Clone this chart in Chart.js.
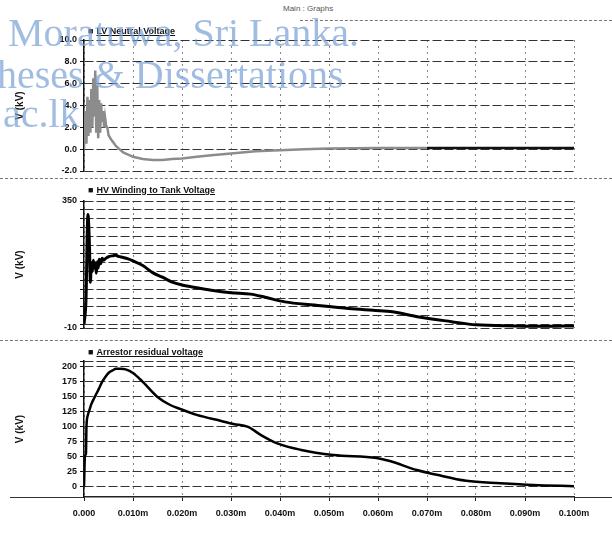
<!DOCTYPE html>
<html>
<head>
<meta charset="utf-8">
<script src="https://cdn.jsdelivr.net/npm/chart.js@4.4.1/dist/chart.umd.min.js"></script>
<style>
    body { margin: 0; background: #fff; }
    #page { position: relative; width: 612px; height: 546px; overflow: hidden; background: #fff; font-family: "Liberation Sans", Arial, sans-serif; }
    .panel { position: absolute; left: 0; width: 612px; }
    .legend { position: absolute; left: 88px; font-size: 9px; font-weight: bold; color: #111; white-space: nowrap; }
    .legend span { text-decoration: underline; margin-left: 3px; }
    .rule { position: absolute; border-top: 1px dashed #777; height: 0; }
    .mark { position: absolute; font-family: "Liberation Serif", "Times New Roman", serif; font-size: 40px; line-height: 40px; color: rgba(120,160,212,0.7); white-space: nowrap; pointer-events: none; }
</style>
</head>
<body>
<div id="page">
    <div style="position:absolute;left:283px;top:4px;font-size:8px;color:#555;">Main : Graphs</div>
    <div class="rule" style="left:300px;top:20px;width:312px;"></div>
    <div class="rule" style="left:0;top:178px;width:612px;"></div>
    <div class="rule" style="left:0;top:340px;width:612px;"></div>
    <div style="position:absolute;left:10px;top:497px;width:74px;border-top:1px solid #333;"></div>
    <div style="position:absolute;left:574px;top:497px;width:38px;border-top:1px solid #333;"></div>

    <div class="panel" style="top:30px;height:150px;"><canvas id="grafico-1" width="612" height="150"></canvas></div>
    <div class="panel" style="top:190px;height:150px;"><canvas id="grafico-2" width="612" height="150"></canvas></div>
    <div class="panel" style="top:350px;height:196px;"><canvas id="grafico-3" width="612" height="196"></canvas></div>

    <div class="legend" style="top:26px;">&#9632;<span>LV Neutral Voltage</span></div>
    <div class="legend" style="top:185px;">&#9632;<span>HV Winding to Tank Voltage</span></div>
    <div class="legend" style="top:347px;">&#9632;<span>Arrestor residual voltage</span></div>

    <div class="mark" style="left:8px;top:13px;">Moratuwa, Sri Lanka.</div>
    <div class="mark" style="left:-3px;top:55px;">heses &amp; Dissertations</div>
    <div class="mark" style="left:3px;top:94px;">ac.lk</div>
</div>
<script>
// time axis (s)
const xTicks = [0, 0.01, 0.02, 0.03, 0.04, 0.05, 0.06, 0.07, 0.08, 0.09, 0.1];

// LV Neutral Voltage (kV)
const lvTime = [0, 0.0003, 0.0005, 0.0007, 0.0009, 0.0011, 0.0013, 0.0015, 0.0017, 0.0019, 0.0021, 0.0023, 0.0025,
    0.0027, 0.0029, 0.0031, 0.0033, 0.0035, 0.0037, 0.0039, 0.0041, 0.0043, 0.0045, 0.0048, 0.005, 0.0055, 0.006,
    0.0065, 0.007, 0.008, 0.009, 0.010, 0.012, 0.014, 0.016, 0.018, 0.020, 0.023, 0.026, 0.030, 0.035, 0.040,
    0.045, 0.050, 0.060, 0.070, 0.080, 0.090, 0.100];
const lvVoltage = [0, 3.5, 0.5, 4.8, 1.2, 4.5, 1.5, 5.5, 2.0, 6.5, 3.0, 7.2, 1.5,
    5.8, 1.0, 4.5, 1.5, 4.2, 2.5, 3.5, 2.0, 2.9, 2.2, 1.9, 1.3, 0.9, 0.6,
    0.3, 0.1, -0.3, -0.5, -0.7, -0.9, -1.0, -1.0, -0.9, -0.85, -0.7, -0.55, -0.4, -0.2, -0.1,
    0.0, 0.05, 0.1, 0.1, 0.1, 0.1, 0.1];
const lvTicks = [-2, 0, 2, 4, 6, 8, 10];

// HV Winding to Tank Voltage (kV)
const hvTime = [0, 0.0004, 0.0008, 0.0011, 0.0013, 0.0015, 0.0017, 0.0019, 0.0021, 0.0023, 0.0025, 0.0027, 0.0029,
    0.0031, 0.0034, 0.0037, 0.004, 0.0045, 0.005, 0.006, 0.0065, 0.007, 0.008, 0.009, 0.010, 0.012, 0.014,
    0.016, 0.018, 0.020, 0.023, 0.026, 0.030, 0.034, 0.037, 0.041, 0.047, 0.054, 0.059, 0.063, 0.068,
    0.075, 0.080, 0.088, 0.094, 0.100];
const hvVoltage = [0, 68, 312, 230, 120, 175, 150, 182, 160, 175, 145, 178, 160,
    185, 172, 188, 182, 188, 192, 195, 196, 193, 190, 186, 180, 167, 147,
    134, 120, 112, 104, 97, 90, 86, 77, 64, 55, 45, 40, 36, 22,
    8, -1, -4, -5, -4];
const hvTicks = [-10, 0, 25, 50, 75, 100, 125, 150, 175, 200, 225, 250, 275, 300, 325, 350];

// Arrestor residual voltage (kV)
const arTime = [0, 0.0002, 0.0004, 0.0005, 0.0008, 0.0011, 0.0015, 0.0022, 0.003, 0.0037, 0.0045, 0.005, 0.006,
    0.0065, 0.0075, 0.0085, 0.010, 0.012, 0.015, 0.0175, 0.0196, 0.023, 0.028, 0.0305, 0.0335, 0.036,
    0.0393, 0.0441, 0.0509, 0.0597, 0.0624, 0.0679, 0.072, 0.078, 0.085, 0.0917, 0.100];
const arVoltage = [0, 52, 55, 100, 120, 128, 138, 150, 163, 175, 185, 190, 195,
    197, 197, 196, 190, 175, 150, 137, 130, 120, 110, 105, 100, 87,
    73, 62, 53, 48, 43, 28, 20, 10, 6, 3, 1];
const arTicks = [0, 25, 50, 75, 100, 125, 150, 175, 200, 210];

const tickFont = { family: "'Liberation Sans', Arial, sans-serif", size: 9, weight: 'bold' };

function points(xs, ys) {
    return xs.map((x, i) => ({ x: x, y: ys[i] }));
}

function xScale(showLabels) {
    return {
        type: 'linear',
        min: 0,
        max: 0.1,
        afterBuildTicks: axis => { axis.ticks = xTicks.map(v => ({ value: v })); },
        afterFit: axis => { axis.height = showLabels ? 49 : 0; },
        grid: { color: '#888', lineWidth: 1, drawTicks: showLabels, tickLength: 4, tickColor: '#222' },
        border: { display: showLabels, color: '#222', width: 1.5, dash: [2, 4] },
        ticks: {
            display: showLabels,
            padding: 7,
            color: '#111',
            font: tickFont,
            maxRotation: 0,
            autoSkip: false,
            callback: v => v === 0 ? '0.000' : v.toFixed(3) + 'm'
        }
    };
}

function yScale(min, max, tickList, label) {
    return {
        min: min,
        max: max,
        afterBuildTicks: axis => { axis.ticks = tickList.map(v => ({ value: v })); },
        afterFit: axis => { axis.width = 84; },
        grid: { color: '#333', lineWidth: 1, tickLength: 4, tickColor: '#111' },
        border: { display: true, color: '#111', width: 1.5, dash: [9, 3] },
        title: { display: true, text: 'V (kV)', color: '#111', font: { family: tickFont.family, size: 10, weight: 'bold' }, padding: { top: 14, bottom: 0 } },
        ticks: { color: '#111', font: tickFont, padding: 3, autoSkip: false, callback: label }
    };
}

function makeChart(id, dataset, yOpts, showX, pad) {
    return new Chart(document.getElementById(id).getContext('2d'), {
        type: 'line',
        data: { datasets: [dataset] },
        options: {
            responsive: false,
            animation: false,
            layout: { padding: pad },
            plugins: { legend: { display: false }, tooltip: { enabled: false } },
            scales: { x: xScale(showX), y: yOpts }
        }
    });
}

makeChart('grafico-1', {
    data: points(lvTime, lvVoltage),
    borderColor: '#8c8c8c',
    borderWidth: 2.5,
    pointRadius: 0,
    tension: 0,
    segment: { borderColor: ctx => ctx.p0.parsed.x >= 0.066 ? '#111' : '#8c8c8c' }
}, yScale(-2, 10, lvTicks, v => v.toFixed(1)), false, { top: 10, bottom: 9, left: 0, right: 38 });

makeChart('grafico-2', {
    data: points(hvTime, hvVoltage),
    borderColor: '#000',
    borderWidth: 3,
    pointRadius: 0,
    cubicInterpolationMode: 'monotone'
}, yScale(-10, 350, hvTicks, v => (v === -10 || v === 350) ? String(v) : ''), false, { top: 11, bottom: 12, left: 0, right: 38 });

makeChart('grafico-3', {
    data: points(arTime, arVoltage),
    borderColor: '#000',
    borderWidth: 2.5,
    pointRadius: 0,
    cubicInterpolationMode: 'monotone'
}, yScale(-17, 210, arTicks, v => v === 210 ? '' : String(v)), true, { top: 11, bottom: 0, left: 0, right: 38 });
</script>
</body>
</html>
